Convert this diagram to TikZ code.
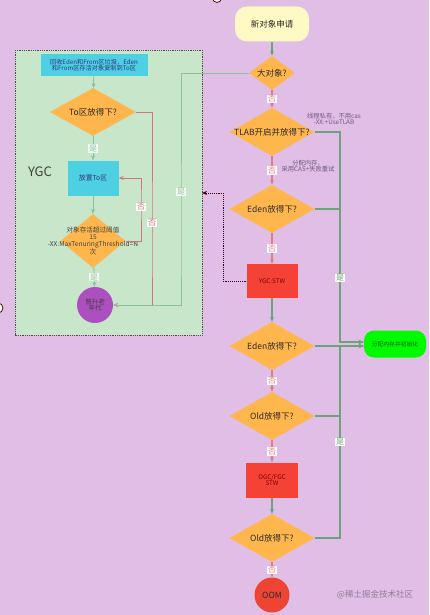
\documentclass[tikz,border=0pt]{standalone}
\usepackage{fontspec}
\setmainfont{Noto Sans CJK SC}
\usetikzlibrary{shapes.geometric,arrows.meta}
\definecolor{bgc}{RGB}{224,190,230}
\definecolor{gbg}{RGB}{200,230,202}
\definecolor{dorange}{RGB}{255,183,77}
\definecolor{cyanb}{RGB}{77,208,225}
\definecolor{redb}{RGB}{244,67,54}
\definecolor{oomc}{RGB}{238,68,52}
\definecolor{purpc}{RGB}{171,80,190}
\definecolor{yelc}{RGB}{255,249,196}
\definecolor{limec}{RGB}{0,250,0}
\definecolor{gline}{RGB}{105,165,120}
\definecolor{glineL}{RGB}{140,195,150}
\definecolor{pline}{RGB}{220,125,140}
\definecolor{plineL}{RGB}{205,120,125}
\definecolor{txt}{RGB}{45,40,45}
\definecolor{annot}{RGB}{110,90,120}
\newcommand{\fs}[1]{\fontsize{#1}{#1}\selectfont}
\tikzset{
  dia/.style={diamond, fill=dorange, inner sep=0pt},
  dtext/.style={text=txt, font=\fs{8.5}, align=center, inner sep=0pt},
  cbox/.style={rectangle, fill=cyanb, inner sep=0pt, text=blue!40!black!80, align=center},
  rbox/.style={rectangle, fill=redb, inner sep=0pt, text=red!50!black, align=center, font=\fs{6.3}},
  garr/.style={draw=gline, line width=1.1pt, -{Stealth[length=5pt,width=4pt]}},
  garrL/.style={draw=glineL, line width=0.9pt, -{Stealth[length=5pt,width=4pt]}},
  parr/.style={draw=pline, line width=1.1pt, -{Stealth[length=5pt,width=4pt]}},
  parrL/.style={draw=plineL, line width=0.9pt, -{Stealth[length=5pt,width=4pt]}},
  nolab/.style={fill=white, inner sep=0.8pt, text=pline, font=\fs{8}},
  yeslab/.style={fill=white, inner sep=0.8pt, text=gline, font=\fs{8}},
  yeslabL/.style={fill=white!85!gbg, inner sep=0.8pt, text=glineL, font=\fs{8}},
  annott/.style={text=annot, font=\fs{6.3}, align=center, inner sep=0pt},
}
\begin{document}
\begin{tikzpicture}[x=1pt,y=-1pt]
\useasboundingbox (0,0) rectangle (429,615);
\fill[bgc] (0,0) rectangle (429,615);
% YGC region
\draw[densely dotted, draw=black!70, fill=gbg, line width=0.8pt] (15,50) rectangle (202,335);
\node[text=black!75, font=\fs{13}] (ygclab) at (40,172) {YGC};

% main column
\node[rectangle, rounded corners=12pt, fill=yelc, minimum width=74, minimum height=35, text=txt, font=\fs{8.5}] (new) at (272,24) {新对象申请};
\node[dia, minimum width=46, minimum height=34] (big) at (272,73) {};
\node[dtext] at (big) {大对象?};
\node[dia, minimum width=85, minimum height=48] (tlab) at (272,132) {};
\node[dtext] at (tlab) {TLAB开启并放得下?};
\node[dia, minimum width=85, minimum height=48] (eden1) at (272,209) {};
\node[dtext] at (eden1) {Eden放得下?};
\node[rbox, minimum width=51, minimum height=34] (ygc) at (272,281) {YGC:STW};
\node[dia, minimum width=85, minimum height=48] (eden2) at (272,346) {};
\node[dtext] at (eden2) {Eden放得下?};
\node[dia, minimum width=85, minimum height=48] (old1) at (272,416) {};
\node[dtext] at (old1) {Old放得下?};
\node[rbox, minimum width=52, minimum height=35] (ogc) at (272,480) {OGC/FGC\\STW};
\node[dia, minimum width=85, minimum height=48] (old2) at (272,538) {};
\node[dtext] at (old2) {Old放得下?};
\node[circle, fill=oomc, minimum size=35, inner sep=0pt, text=txt, font=\fs{8.5}] (oom) at (272,595) {OOM};
\node[rectangle, rounded corners=10pt, fill=limec, minimum width=62, minimum height=27, text=green!40!black, font=\fs{5.8}] (alloc) at (395,344) {分配内存并初始化};

\node[annott] (an1) at (334,119) {线程私有，不用cas\\-XX:+UseTLAB};
\node[annott] (an2) at (308,166) {分配内存，\\采用CAS+失败重试};

% main arrows
\draw[garr] (new) -- (big);
\draw[parr] (big) -- node[nolab]{否} (tlab);
\draw[parr] (tlab) -- node[nolab]{否} (eden1);
\draw[parr] (eden1) -- node[nolab]{否} (ygc);
\draw[garr] (ygc) -- (eden2);
\draw[parr] (eden2) -- node[nolab]{否} (old1);
\draw[parr] (old1) -- node[nolab]{否} (ogc);
\draw[garr] (ogc) -- (old2);
\draw[parr] (old2) -- node[nolab]{否} (oom);

% yes routes to alloc
\draw[garr] (tlab.east) -| (340,300) |- ([yshift=2pt]alloc.west);
\draw[garr] (eden1.east) -| (340,300) |- ([yshift=2pt]alloc.west);
\draw[garr] (eden2.east) -- (eden2.east -| alloc.west);
\draw[garr] (old1.east) -| (340,380) |- ([yshift=-2pt]alloc.west);
\draw[garr] (old2.east) -| (340,380) |- ([yshift=-2pt]alloc.west);
\node[yeslab] (y1) at (340,278) {是};
\node[yeslab] (y2) at (340,442) {是};

% left YGC flow
\node[cbox, minimum width=107, minimum height=22, font=\fs{6.2}] (recl) at (94,65) {回收Eden和From区垃圾，Eden\\和From区存活对象复制到To区};
\node[dia, minimum width=86, minimum height=48] (toq) at (93,112) {};
\node[dtext] at (toq) {To区放得下?};
\node[cbox, minimum width=51, minimum height=35, font=\fs{6.8}] (place) at (93,178) {放置To区};
\node[dia, minimum width=65, minimum height=54] (thr) at (93,241) {};
\node[dtext, font=\fs{6.6}, text=black!75] at (thr) {对象存活超过阈值\\15\\-XX:MaxTenuringThreshold=N\\次};
\node[circle, fill=purpc, minimum size=36, inner sep=0pt, text=black!75, font=\fs{6.5}, align=center] (jin) at (95,305) {晋升老\\年代};

\draw[garrL] (recl) -- (toq);
\draw[garrL] (toq) -- node[yeslabL]{是} (place);
\draw[garrL] (place) -- (thr);
\draw[garrL] (thr) -- node[yeslabL]{是} (jin);
\draw[parrL] (thr.east) -| (141,200) |- (place.east);
\node[nolab, text=plineL] (n1) at (141,207) {否};
\draw[parrL] (toq.east) -| (152,250) |- (jin.east);
\node[nolab, text=plineL] (n2) at (152,223) {否};
\draw[garrL] (big.west) -| (181,250) |- (jin.east);
\node[yeslabL] (y3) at (181,192) {是};

% dotted back arrow
\coordinate (ybox) at (202,193);
\draw[densely dotted, draw=black!70!purple, line width=0.9pt, -{Stealth[length=5pt,width=4pt]}] (ygc.west) -| (223,240) |- (ybox);

% handles
\draw[fill=white, draw=red!40!black, line width=0.8pt] (217,-2) circle (4.5);
\draw[fill=white, draw=red!40!black, line width=0.8pt] (-2,308) circle (5);

% watermark
\node[text=black!35!bgc, font=\fs{8.5}] (wm) at (375,595) {@稀土掘金技术社区};
\end{tikzpicture}
\end{document}
